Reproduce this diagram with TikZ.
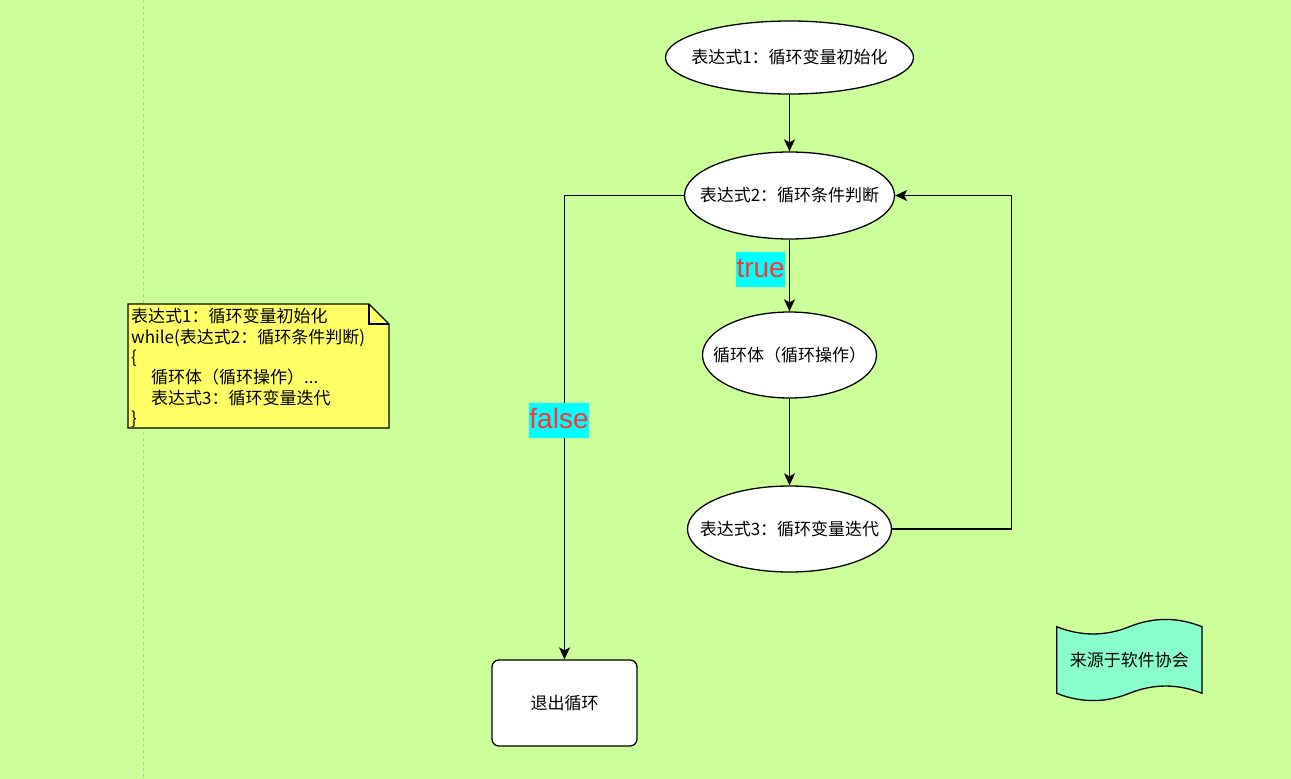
\documentclass[tikz,border=0pt]{standalone}
\usepackage{fontspec}
\setmainfont{Noto Sans CJK SC}
\newfontfamily\latinfont{Liberation Sans}
\usetikzlibrary{arrows.meta,shapes.geometric,positioning}
\definecolor{LoopBg}{HTML}{CCFF99}
\definecolor{LoopNote}{HTML}{FFFF66}
\definecolor{LoopTape}{HTML}{88FFCC}
\definecolor{LoopCyan}{HTML}{00FFFF}
\definecolor{LoopRed}{HTML}{FF3333}
\definecolor{LoopPage}{HTML}{B0C8A0}

\begin{document}
\begin{tikzpicture}[
          x=1pt,y=-1pt,
          >={Stealth[length=12pt,width=11pt,inset=3pt]},
          stage/.style={ellipse,draw,line width=1.3pt,fill=white,inner xsep=-24pt,inner ysep=-6pt,
            font=\fontsize{17}{20}\selectfont},
          exitbox/.style={rectangle,rounded corners=7pt,draw,line width=1.3pt,fill=white,
            minimum width=145pt,minimum height=86pt,font=\fontsize{17}{20}\selectfont},
          flow/.style={->,line width=1.4pt},
          verdict/.style={fill=LoopCyan,text=LoopRed,inner xsep=0.5pt,inner ysep=0pt,
            text height=25pt,text depth=10pt,font=\latinfont\fontsize{28}{32}\selectfont},
          pagebreak/.style={dash pattern=on 3pt off 3pt,line width=0.8pt,draw=LoopPage},
          memo/.style={draw,line width=1.3pt,fill=LoopNote},
          tape/.style={draw,line width=1.3pt,fill=LoopTape}
        ]
        \fill[LoopBg] (0,0) rectangle (1291,779);
        \path[use as bounding box] (0,0) rectangle (1291,779);
        \draw[pagebreak] (143.5,0) -- (143.5,779);

        % loop chart
        \node[stage,minimum width=248pt,minimum height=73pt] (init) at (789.5,57.5)
          {表达式1：循环变量初始化};
        \node[stage,minimum width=210pt,minimum height=87pt] (cond) at (789.5,195.5)
          {表达式2：循环条件判断};
        \node[stage,minimum width=174pt,minimum height=86pt] (body) at (789.5,355)
          {循环体（循环操作）};
        \node[stage,minimum width=204pt,minimum height=86pt] (iter) at (789.5,529)
          {表达式3：循环变量迭代};
        \node[exitbox] (quit) at (564.5,703) {退出循环};
        \coordinate (backR) at (1011.5,529);

        \draw[flow] (init) -- (cond);
        \draw[flow] (cond) -- node[verdict,pos=0.42,anchor=east,xshift=-3.5pt] (yes) {true} (body);
        \draw[flow] (body) -- (iter);
        \draw[flow] (iter.east) -- (backR) |- (cond.east);
        \draw[flow] (cond.west) -| node[verdict,pos=0.743,xshift=-5.5pt] (no) {false} (quit.north);

        % code note
        \draw[memo] (128,304) -- (369,304) -- (389,324) -- (389,428) -- (128,428) -- cycle;
        \draw[line width=1.3pt] (369,304) -- (369,324) -- (389,324);
        \node[anchor=north west,align=left,inner sep=0pt,
          font=\fontsize{17}{20.4}\selectfont] (code) at (131,308)
          {表达式1：循环变量初始化\\
           while(表达式2：循环条件判断)\\
           \{\\
           \hspace*{20pt}循环体（循环操作）...\\
           \hspace*{20pt}表达式3：循环变量迭代\\
           \}};

        % source tag
        \draw[tape] (1056.7,626.7) .. controls (1081,636.4) and (1105.4,636.4) .. (1129.4,626.7)
          .. controls (1153.5,617) and (1177.7,617) .. (1202,626.7) -- (1202,693.3)
          .. controls (1177.7,683.6) and (1153.5,683.6) .. (1129.4,693.3)
          .. controls (1105.4,703) and (1081,703) .. (1056.7,693.3) -- cycle;
        \node[font=\fontsize{17}{20}\selectfont] (source) at (1129.4,660) {来源于软件协会};
      \end{tikzpicture}
\end{document}
